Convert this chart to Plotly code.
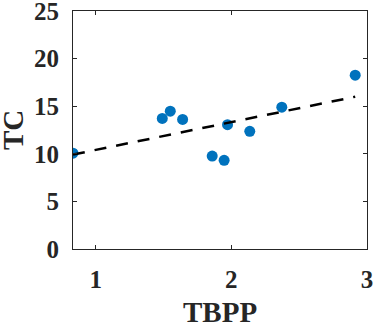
import numpy as np
import plotly.graph_objects as go

tbpp = [0.833, 1.491, 1.550, 1.641, 1.859, 1.947, 1.972, 2.136, 2.372, 2.913]
tc = [10.07, 13.72, 14.48, 13.61, 9.76, 9.31, 13.06, 12.36, 14.90, 18.26]
x_ticks = [1, 2, 3]
y_ticks = [0, 5, 10, 15, 20, 25]

# least-squares trend line through the points
slope, intercept = np.polyfit(tbpp, tc, 1)
fit_x = [min(tbpp), max(tbpp)]
fit_y = [slope * v + intercept for v in fit_x]

fig = go.Figure()
fig.add_trace(go.Scatter(x=tbpp, y=tc, mode="markers",
                         marker=dict(color="#0072BD", size=11, line=dict(width=0))))
fig.add_trace(go.Scatter(x=fit_x, y=fit_y, mode="lines",
                         line=dict(color="black", width=2.5, dash="12px,10px")))

axis_common = dict(
    showgrid=False, zeroline=False, showline=True, mirror="ticks",
    linecolor="#262626", linewidth=1, ticks="inside", ticklen=4,
    tickcolor="#262626", tickwidth=1, ticklabeloverflow="allow",
    tickfont=dict(family="Liberation Serif", size=25, color="#262626", weight="bold"),
)
fig.update_xaxes(range=[0.833, 3], tickvals=x_ticks, ticklabelstandoff=8, **axis_common)
fig.update_yaxes(range=[0, 25], tickvals=y_ticks, ticklabelstandoff=8, **axis_common)

title_font = dict(family="Liberation Serif", size=29, color="#262626", weight="bold")
fig.add_annotation(text="TBPP", xref="paper", yref="paper", x=0.5, y=0,
                   xanchor="center", yanchor="middle", yshift=-63,
                   showarrow=False, font=title_font)
fig.add_annotation(text="TC", xref="paper", yref="paper", x=0, y=0.5,
                   xanchor="center", yanchor="middle", xshift=-60, textangle=-90,
                   showarrow=False, font=title_font)

fig.update_layout(width=375, height=323, showlegend=False,
                  plot_bgcolor="white", paper_bgcolor="white",
                  margin=dict(l=73, r=8, t=11, b=74, autoexpand=False))

fig.write_html("out.html", config={"displayModeBar": False},
               post_script="document.body.style.margin='0';")
